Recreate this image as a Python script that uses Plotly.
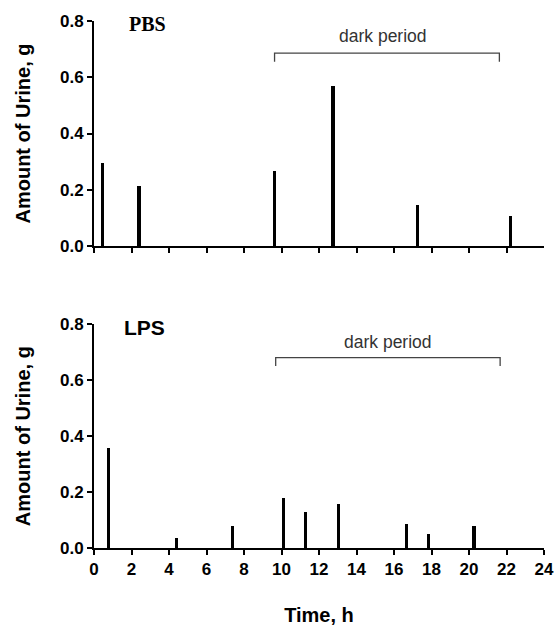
import plotly.graph_objects as go
from plotly.subplots import make_subplots

# PBS panel data
pbs_time = [0.44, 2.4, 9.63, 12.75, 17.25, 22.2]
pbs_urine = [0.295, 0.213, 0.265, 0.570, 0.147, 0.107]

# LPS panel data
lps_time = [0.76, 4.38, 7.4, 10.1, 11.3, 13.03, 16.66, 17.83, 20.27]
lps_urine = [0.355, 0.036, 0.079, 0.176, 0.127, 0.155, 0.086, 0.050, 0.078]

# dark period bracket (hours) and its levels
dark_start = [9.63, 9.69]
dark_end = [21.62, 21.66]
bracket_top = [0.686, 0.681]
bracket_foot = [0.655, 0.651]
dark_label_x = [15.39, 15.67]
dark_label_y = [0.745, 0.738]

panel_labels = ["PBS", "LPS"]
x_ticks_top = list(range(0, 23, 2))
x_ticks = list(range(0, 25, 2))
y_ticks = [0.0, 0.2, 0.4, 0.6, 0.8]

SANS = "Liberation Sans, Arial, sans-serif"
SERIF = "Liberation Serif, Times New Roman, serif"

fig = make_subplots(rows=2, cols=1, vertical_spacing=0.1485)

bar_w = 0.17
fig.add_trace(go.Bar(x=pbs_time, y=pbs_urine, width=bar_w, marker=dict(color="black", line=dict(width=0)),
                     showlegend=False), row=1, col=1)
fig.add_trace(go.Bar(x=lps_time, y=lps_urine, width=bar_w, marker=dict(color="black", line=dict(width=0)),
                     showlegend=False), row=2, col=1)

for i in range(2):
    fig.add_trace(go.Scatter(
        x=[dark_start[i], dark_start[i], dark_end[i], dark_end[i]],
        y=[bracket_foot[i], bracket_top[i], bracket_top[i], bracket_foot[i]],
        mode="lines", line=dict(color="#444444", width=1.3), showlegend=False, hoverinfo="skip"),
        row=i + 1, col=1)

fig.update_layout(
    width=556, height=627,
    margin=dict(l=94, r=12, t=21, b=79),
    paper_bgcolor="white", plot_bgcolor="white",
    bargap=0, showlegend=False,
)

fig.update_layout(
    yaxis=dict(domain=[0.573, 1.0]),
    yaxis2=dict(domain=[0.0, 0.4245]),
)

for r in (1, 2):
    fig.update_xaxes(row=r, col=1, range=[0, 24], tickvals=x_ticks, showgrid=False, zeroline=False,
                     automargin=False,
                     showline=True, linecolor="black", linewidth=2, ticks="outside", ticklen=5,
                     tickwidth=2, tickcolor="black",
                     tickfont=dict(family=SANS, size=17, color="black", weight="bold"))
    fig.update_yaxes(row=r, col=1, range=[0, 0.8], tickvals=y_ticks, tickformat=".1f", showgrid=False,
                     zeroline=False, showline=True, linecolor="black", linewidth=2, ticks="outside",
                     automargin=False,
                     ticklen=5, tickwidth=2, tickcolor="black",
                     tickfont=dict(family=SANS, size=17, color="black", weight="bold"),
                     title=dict(text="Amount of Urine, g", standoff=24,
                                font=dict(family=SANS, size=20, color="black", weight="bold")))

fig.update_xaxes(row=1, col=1, showticklabels=False, tickvals=x_ticks_top)
fig.update_xaxes(row=2, col=1, title=dict(text="Time, h", standoff=30,
                                          font=dict(family=SANS, size=20, color="black", weight="bold")))

# panel labels
fig.add_annotation(x=2.85, y=0.79, xref="x", yref="y", text=panel_labels[0], showarrow=False,
                   font=dict(family=SERIF, size=20, color="black", weight="bold"))
fig.add_annotation(x=2.7, y=0.788, xref="x2", yref="y2", text=panel_labels[1], showarrow=False,
                   font=dict(family=SANS, size=21, color="black", weight="bold"))

# dark period labels
for i, (xr, yr) in enumerate([("x", "y"), ("x2", "y2")]):
    fig.add_annotation(x=dark_label_x[i], y=dark_label_y[i], xref=xr, yref=yr,
                       text="dark period", showarrow=False,
                       font=dict(family=SANS, size=17.5, color="#333333"))

fig.write_html("out.html", config={"displayModeBar": False},
               post_script="document.body.style.margin='0';")
